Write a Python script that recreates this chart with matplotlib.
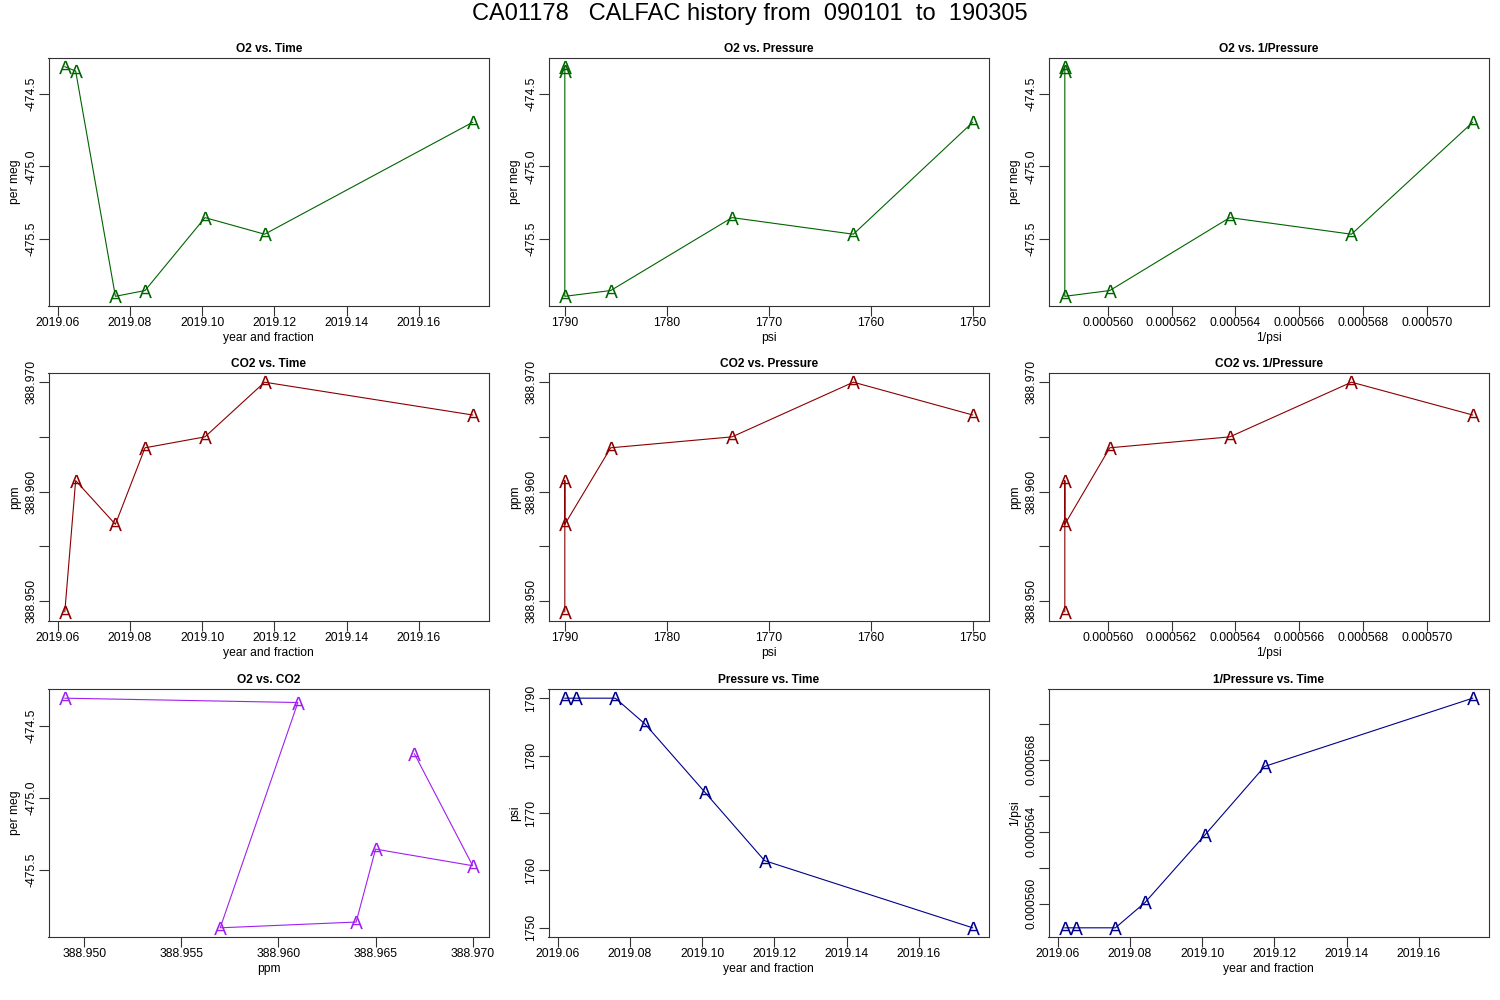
import numpy as np
import matplotlib
matplotlib.use("Agg")
import matplotlib.pyplot as plt
from matplotlib.ticker import MultipleLocator, FuncFormatter

plt.rcParams['font.family'] = ['Liberation Sans', 'DejaVu Sans']
plt.rcParams['mathtext.fontset'] = 'custom'
plt.rcParams['mathtext.rm'] = 'Liberation Sans'

# values
year = [2019.0620, 2019.0650, 2019.0760, 2019.0842, 2019.1008, 2019.1173, 2019.1749]
o2 = [-474.31, -474.34, -475.90, -475.86, -475.355, -475.47, -474.695]
co2 = [388.949, 388.961, 388.957, 388.964, 388.965, 388.970, 388.967]
psi = [1790.0, 1790.0, 1790.0, 1785.5, 1773.6, 1761.7, 1750.0]
inv_psi = list(1.0 / np.array(psi))

title = "CA01178   CALFAC history from  090101  to  190305"

green = '#006400'
red = '#8B0000'
purple = '#A020F0'
blue = '#00008B'

# axis settings per quantity: step, format, label every n-th tick (x), (y), invert
axis_info = {
    'time': (0.02, '%.2f', 1, 1, False),
    'o2': (0.5, '%.1f', 1, 1, False),
    'co2': (0.005, '%.3f', 1, 2, False),
    'psi': (10, '%d', 1, 1, True),
    'inv': (0.000002, '%.6f', 1, 2, False),
}

data = {'time': year, 'o2': o2, 'co2': co2, 'psi': psi, 'inv': inv_psi}
labels = {'time': 'year and fraction', 'o2': 'per meg', 'co2': 'ppm',
          'psi': 'psi', 'inv': '1/psi'}

panels = [
    [('time', 'o2', green, 'O2 vs. Time'),
     ('psi', 'o2', green, 'O2 vs. Pressure'),
     ('inv', 'o2', green, 'O2 vs. 1/Pressure')],
    [('time', 'co2', red, 'CO2 vs. Time'),
     ('psi', 'co2', red, 'CO2 vs. Pressure'),
     ('inv', 'co2', red, 'CO2 vs. 1/Pressure')],
    [('co2', 'o2', purple, 'O2 vs. CO2'),
     ('time', 'psi', blue, 'Pressure vs. Time'),
     ('time', 'inv', blue, '1/Pressure vs. Time')],
]


def make_fmt(fmt, every, step):
    def f(v, pos):
        if every > 1:
            k = v / (step * every)
            if abs(k - round(k)) > 1e-3:
                return ''
        if fmt == '%d':
            return '%d' % round(v)
        return fmt % v
    return FuncFormatter(f)


fig = plt.figure(figsize=(15, 10), dpi=100)
fig.text(0.5, 1 - 14 / 1000, title, ha='center', va='center', fontsize=17)

lefts = [48.5, 548.5, 1048.5]
bottoms = [305.5, 621, 937]
W, H = 440.5, 248

for r, row in enumerate(panels):
    for c, (xk, yk, col, ttl) in enumerate(row):
        ax = fig.add_axes([lefts[c] / 1500, 1 - bottoms[r] / 1000, W / 1500, H / 1000])
        ax.plot(data[xk], data[yk], '-', color=col, lw=0.8,
                marker=r'$\mathrm{A}$', markersize=9.5, markeredgewidth=0,
                markerfacecolor=col)
        ax.margins(0.04)

        step, fmt, xev, yev, inv = axis_info[xk]
        ax.xaxis.set_major_locator(MultipleLocator(step))
        ax.xaxis.set_major_formatter(make_fmt(fmt, xev, step))
        if inv:
            ax.invert_xaxis()
        step, fmt, xev, yev, inv = axis_info[yk]
        ax.yaxis.set_major_locator(MultipleLocator(step))
        ax.yaxis.set_major_formatter(make_fmt(fmt, yev, step))

        for s in ax.spines.values():
            s.set_linewidth(0.8)
            s.set_color('#333333')
        ax.tick_params(direction='out', length=7, width=0.8, labelsize=8.7,
                       color='#333333')
        ax.tick_params(axis='x', pad=1)
        ax.tick_params(axis='y', pad=1, labelrotation=90)
        for lab in ax.get_yticklabels():
            lab.set_va('center')

        ax.set_title(ttl, fontsize=8.6, fontweight='bold', pad=4)
        ax.set_xlabel(labels[xk], fontsize=8.7)
        ax.set_ylabel(labels[yk], fontsize=8.7)
        ax.xaxis.set_label_coords(0.5, -0.105)
        ax.yaxis.set_label_coords(-0.062, 0.5)

fig.savefig('out.png', dpi=100)
